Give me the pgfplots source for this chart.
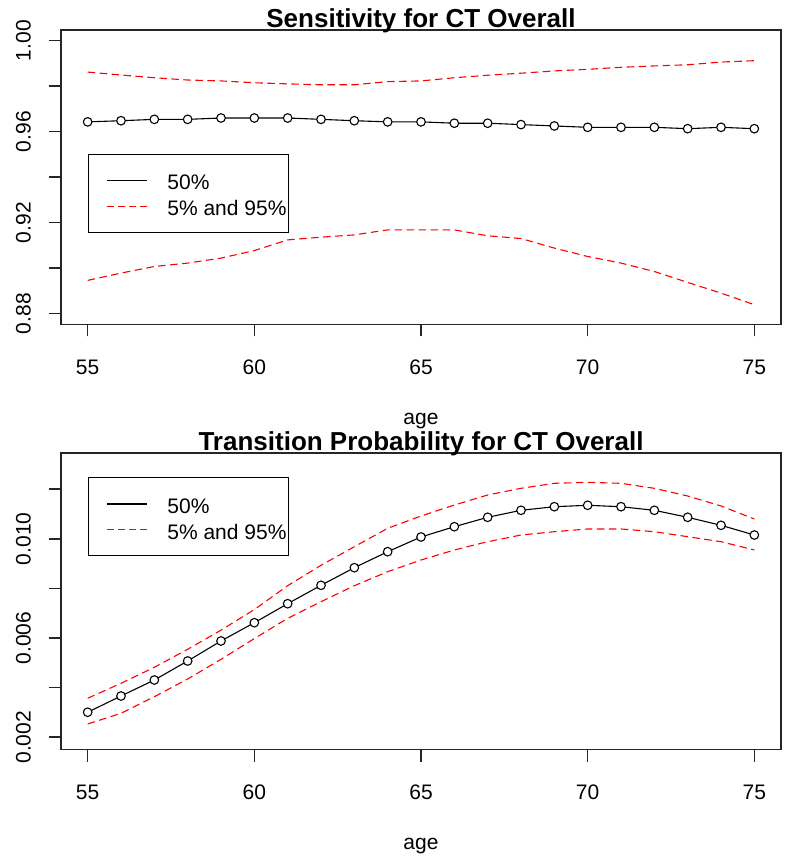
\documentclass[border=0pt]{standalone}
\usepackage{pgfplots}
\usepackage{pgfplotstable}
\pgfplotsset{compat=1.18}
\usepackage{fontspec}
\setmainfont{Liberation Sans}

\pgfplotstableread{
x med up lo
55 0.9643 0.9862 0.8946
56 0.9648 0.9849 0.8978
57 0.9654 0.9837 0.9007
58 0.9654 0.9827 0.9022
59 0.9660 0.9823 0.9044
60 0.9660 0.9815 0.9077
61 0.9660 0.9810 0.9124
62 0.9654 0.9806 0.9136
63 0.9648 0.9806 0.9146
64 0.9643 0.9820 0.9168
65 0.9643 0.9823 0.9168
66 0.9637 0.9837 0.9168
67 0.9637 0.9848 0.9142
68 0.9631 0.9857 0.9130
69 0.9625 0.9867 0.9088
70 0.9619 0.9874 0.9051
71 0.9619 0.9883 0.9022
72 0.9619 0.9889 0.8985
73 0.9613 0.9894 0.8937
74 0.9619 0.9906 0.8890
75 0.9613 0.9912 0.8839
}\sens

\pgfplotstableread{
x med up lo
55 0.003010 0.003573 0.002536
56 0.003665 0.004177 0.002968
57 0.004310 0.004823 0.003637
58 0.005077 0.005548 0.004351
59 0.005883 0.006320 0.005145
60 0.006621 0.007150 0.005980
61 0.007387 0.008113 0.006798
62 0.008129 0.008935 0.007468
63 0.008839 0.009685 0.008113
64 0.009484 0.010427 0.008677
65 0.010077 0.010923 0.009149
66 0.010492 0.011367 0.009552
67 0.010871 0.011770 0.009887
68 0.011153 0.012040 0.010157
69 0.011298 0.012242 0.010290
70 0.011355 0.012282 0.010400
71 0.011298 0.012242 0.010400
72 0.011153 0.012040 0.010290
73 0.010871 0.011730 0.010089
74 0.010548 0.011327 0.009887
75 0.010157 0.010802 0.009552
}\trans

\newcommand{\fs}{\fontsize{21}{25}\selectfont}

\pgfplotsset{
  rplot/.style={
    scale only axis,
    width=720pt,
    xmin=54.2, xmax=75.8,
    xtick={55,60,65,70,75},
    xticklabels={55,60,65,70,75},
    extra x ticks={55,60,65,70,75},
    extra x tick labels={},
    extra x tick style={tick align=outside, major tick length=12pt,
      xtick style={draw=black!85, line width=1.6pt}},
    tick align=outside,
    xtick pos=left, ytick pos=left,
    major tick length=12pt,
    axis line style={black!85, line width=1.2pt},
    xtick style={draw=black!85, line width=1.6pt},
    ytick style={draw=black!85, line width=1.6pt},
    tick label style={font=\fs},
    /pgf/number format/assume math mode=true,
    scaled y ticks=false,
    xticklabel style={anchor=base, inner sep=0pt, yshift=-38pt},
    yticklabel style={xshift=-18.3pt, rotate=90, anchor=base, inner sep=0pt},
    xlabel={age},
    xlabel style={font=\fs, at={(axis description cs:0.5,0)}, anchor=base, yshift=-100pt},
    title style={font=\bfseries\fontsize{26}{30}\selectfont, at={(axis description cs:0.5,1)}, anchor=base, yshift=-3.3pt},
    legend cell align=left,
    legend style={draw=black, line width=1.1pt, inner xsep=0pt, inner ysep=13.2pt,
      row sep=0pt, column sep=17.6pt, font=\fs,
      text height=20.3pt, text depth=5.3pt},
    med/.style={color=black, line width=1.1pt, mark=*, mark size=4.3pt,
      mark options={fill=white, draw=black, line width=1.1pt},
      legend image code/.code={
        \path[draw=none, fill=none] (0pt,-12.8pt) rectangle (59pt,12.8pt);
        \draw[black, line width=1.1pt] (19pt,0pt) -- (59pt,0pt);
      }},
    band/.style={color=red, line width=1.1pt, dash pattern=on 7.5pt off 4.5pt,
      legend image code/.code={
        \path[draw=none, fill=none] (0pt,-12.8pt) rectangle (59pt,12.8pt);
        \draw[red, line width=1.1pt, dash pattern=on 7pt off 4pt] (19pt,0pt) -- (59pt,0pt);
      }},
  }
}

\begin{document}
\begin{tikzpicture}
\path[use as bounding box] (0pt,0pt) rectangle (784pt,858pt);

\begin{axis}[rplot,
  at={(61pt,533.5pt)}, anchor=south west,
  height=294.5pt,
  ymin=0.8752, ymax=1.0047,
  ytick={0.88,0.90,0.92,0.94,0.96,0.98,1.00},
  yticklabels={0.88,,0.92,,0.96,,1.00},
  title={Sensitivity for CT Overall},
  legend style={at={(0.0371,0.5797)}, anchor=north west},
]
\addplot[med] table[x=x, y=med] {\sens};
\addlegendentry{50\%\hspace{11.6pt}}
\addplot[band] table[x=x, y=lo] {\sens};
\addlegendentry{5\% and 95\%\hspace{11.6pt}}
\addplot[band, forget plot] table[x=x, y=up] {\sens};
\end{axis}

\begin{axis}[rplot,
  at={(61pt,108.5pt)}, anchor=south west,
  height=296.5pt,
  ymin=0.001508, ymax=0.013464,
  ytick={0.002,0.004,0.006,0.008,0.010,0.012},
  yticklabels={0.002,,0.006,,0.010,},
  title={Transition Probability for CT Overall},
  legend style={at={(0.0371,0.918)}, anchor=north west},
]
\addplot[med] table[x=x, y=med] {\trans};
\addlegendentry{50\%\hspace{11.6pt}}
\addplot[band] table[x=x, y=lo] {\trans};
\addlegendentry{5\% and 95\%\hspace{11.6pt}}
\addplot[band, forget plot] table[x=x, y=up] {\trans};
\end{axis}
\end{tikzpicture}
\end{document}
